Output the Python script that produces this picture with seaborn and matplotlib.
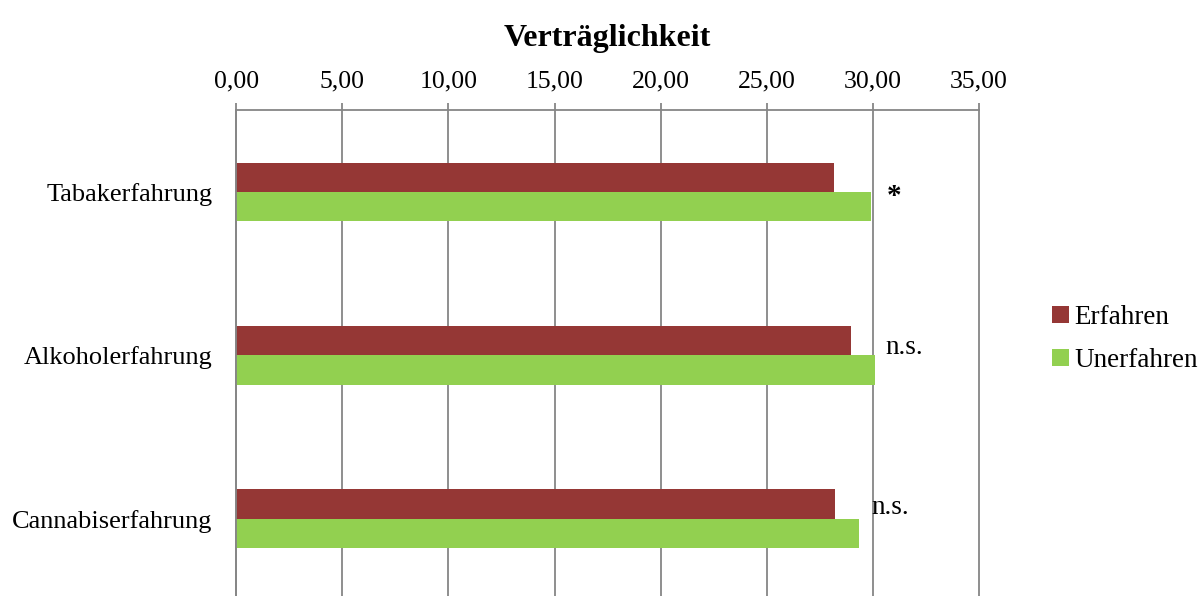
import numpy as np
import pandas as pd
import matplotlib
matplotlib.use('Agg')
import matplotlib.pyplot as plt
import seaborn as sns
from matplotlib.ticker import FuncFormatter

# ============================================================
# DATA
# ============================================================

categories  = ['Tabakerfahrung', 'Alkoholerfahrung', 'Cannabiserfahrung']
erfahren    = [28.15, 28.98, 28.22]
unerfahren  = [29.90, 30.09, 29.34]
signif      = ['*', 'n.s.', 'n.s.']
groups      = ['Erfahren', 'Unerfahren']
colors      = ['#953735', '#92D050']

df = pd.DataFrame({
    'Kategorie': categories * 2,
    'Wert': erfahren + unerfahren,
    'Gruppe': [groups[0]] * 3 + [groups[1]] * 3,
})

# ============================================================
# PLOT
# ============================================================

sns.set_style('white')
plt.rcParams['font.family'] = ['Liberation Serif', 'DejaVu Serif']
plt.rcParams['text.color'] = 'black'
plt.rcParams['xtick.labelcolor'] = 'black'
plt.rcParams['ytick.labelcolor'] = 'black'

fig = plt.figure(figsize=(11.99, 5.96), dpi=100)
ax = fig.add_axes([0.197, -0.007, 0.6195, 0.822])

sns.barplot(data=df, y='Kategorie', x='Wert', hue='Gruppe', orient='h',
            order=categories, hue_order=groups, palette=colors,
            width=0.36, saturation=1, linewidth=0, ax=ax, legend=True)

ax.set_xlim(0, 35)
ax.set_ylim(2.5, -0.5)
ax.set_xticks(np.arange(0, 36, 5))
ax.xaxis.set_major_formatter(FuncFormatter(lambda v, p: f'{v:.2f}'.replace('.', ',')))
ax.xaxis.tick_top()
ax.tick_params(axis='x', which='major', length=5, width=1.3, color='#868686',
               labelsize=18.5, pad=8, top=True, bottom=False, labelcolor='black')
ax.tick_params(axis='y', which='major', length=0, labelsize=19, pad=17,
               labelcolor='black')
ax.set_yticks([-0.5, 0.5, 1.5, 2.5], minor=True)
ax.tick_params(axis='y', which='minor', length=8, width=1.3, color='#868686')
ax.grid(axis='x', color='#868686', linewidth=1.3)
for gl in ax.get_xgridlines():
    gl.set_clip_on(False)
ax.set_axisbelow(True)
ax.set_xlabel('')
ax.set_ylabel('')

for side in ['right', 'bottom']:
    ax.spines[side].set_visible(False)
for side in ['left', 'top']:
    ax.spines[side].set_color('#868686')
    ax.spines[side].set_linewidth(1.3)

# significance labels
ax.text(31.0, 0.03, signif[0], fontsize=21, fontweight='bold',
        ha='center', va='center')
ax.text(30.6, 0.95, signif[1], fontsize=19.5, ha='left', va='center')
ax.text(29.95, 1.93, signif[2], fontsize=19.5, ha='left', va='center')

ax.set_title('Verträglichkeit', fontsize=23, fontweight='bold', pad=46,
             color='black')

leg = ax.legend(loc='center left', bbox_to_anchor=(1.066, 0.533), frameon=False,
                fontsize=19.5, handlelength=0.6, handleheight=0.6,
                handletextpad=0.2, labelspacing=0.68)
for t in leg.get_texts():
    t.set_color('black')

fig.savefig('out.png', dpi=100)
